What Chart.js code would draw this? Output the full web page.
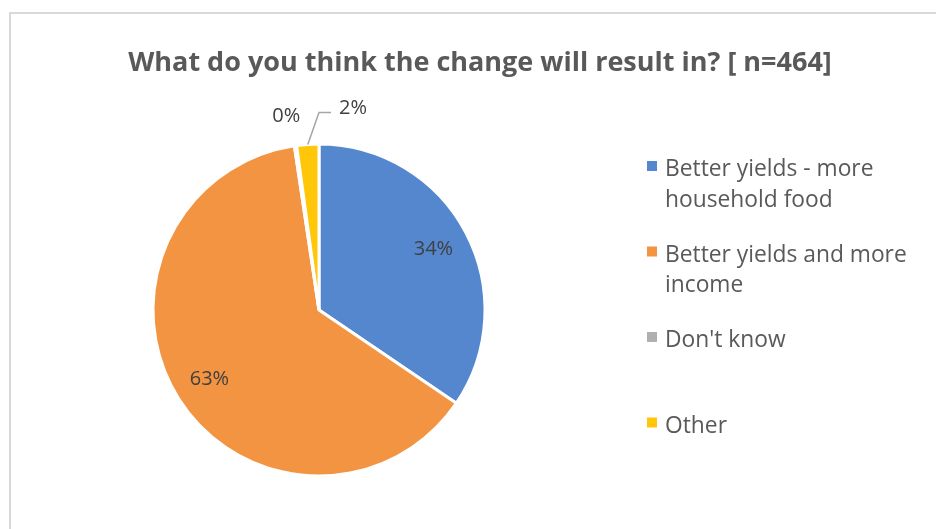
<!DOCTYPE html>
<html>
<head>
<meta charset="utf-8">
<script src="https://cdn.jsdelivr.net/npm/chart.js@4.4.1/dist/chart.umd.min.js"></script>
<style>
  html, body { margin: 0; padding: 0; background: #fff; }
  #wrap { position: relative; width: 936px; height: 529px; overflow: hidden; }
  #frame { position: absolute; left: 9px; top: 12px; width: 1000px; height: 600px;
           border: 2px solid #d9d9d9; box-sizing: border-box; }
  #myChart { position: absolute; left: 0; top: 0; }
</style>
</head>
<body>
<div id="wrap">
  <div id="frame"></div>
  <canvas id="myChart" width="936" height="529"></canvas>
</div>
<script>
const titleText = 'What do you think the change will result in? [ n=464]';

// answers and how many respondents picked each one (n = 464)
const answers = [
    ['Better yields - more', 'household food'],
    ['Better yields and more', 'income'],
    ["Don't know"],
    ['Other']
];
const counts = [160, 293, 1, 10];
const sliceColors = ['#5587cf', '#f29441', '#b0b0b0', '#ffc60a'];

const total = counts.reduce((a, b) => a + b, 0);
const pct = v => Math.round(v / total * 100) + '%';

// title across the frame and the legend column on the right
const frameText = {
    id: 'frameText',
    afterDraw(chart) {
        const ctx = chart.ctx;
        ctx.save();
        ctx.fillStyle = '#595959';
        ctx.textBaseline = 'alphabetic';
        ctx.textAlign = 'center';
        ctx.font = 'bold 27px "Open Sans"';
        ctx.fillText(titleText, 480, 71);

        ctx.textAlign = 'left';
        ctx.font = '22.8px "Open Sans"';
        chart.data.labels.forEach((lines, i) => {
            const base = 176 + i * 85.5;
            ctx.fillStyle = sliceColors[i];
            ctx.fillRect(647, base - 15, 10, 10);
            ctx.fillStyle = '#595959';
            lines.forEach((line, k) => ctx.fillText(line, 665, base + k * 30.7));
        });
        ctx.restore();
    }
};

// percentage labels: big slices inside, thin ones outside the rim
const sliceLabels = {
    id: 'sliceLabels',
    afterDatasetsDraw(chart) {
        const ctx = chart.ctx;
        const arcs = chart.getDatasetMeta(0).data;
        ctx.save();
        ctx.font = '20px "Open Sans"';
        ctx.fillStyle = '#404040';
        ctx.textBaseline = 'middle';
        arcs.forEach((arc, i) => {
            const { x, y, startAngle, endAngle, outerRadius } =
                arc.getProps(['x', 'y', 'startAngle', 'endAngle', 'outerRadius'], true);
            const mid = (startAngle + endAngle) / 2;
            const text = pct(counts[i]);
            if (counts[i] / total >= 0.1) {
                ctx.textAlign = 'center';
                ctx.fillText(text, x + Math.cos(mid) * outerRadius * 0.78,
                                   y + Math.sin(mid) * outerRadius * 0.78);
            } else if (i === 2) {
                // sits left of its spoke so it clears the leader line
                ctx.textAlign = 'right';
                ctx.fillText(text, x + Math.cos(mid) * outerRadius * 1.18 + 9,
                                   y + Math.sin(mid) * outerRadius * 1.18);
            } else {
                // pushed aside with a leader line
                const sx = x + Math.cos(mid) * outerRadius;
                const sy = y + Math.sin(mid) * outerRadius;
                const ex = x + Math.cos(endAngle) * outerRadius * 1.19;
                const ey = y + Math.sin(endAngle) * outerRadius * 1.19;
                ctx.strokeStyle = '#a6a6a6';
                ctx.lineWidth = 1.5;
                ctx.beginPath();
                ctx.moveTo(sx, sy);
                ctx.lineTo(ex, ey);
                ctx.lineTo(ex + 12, ey);
                ctx.stroke();
                ctx.textAlign = 'left';
                ctx.fillText(text, ex + 20, ey - 4);
            }
        });
        ctx.restore();
    }
};

const ctx = document.getElementById('myChart').getContext('2d');

let myChart = new Chart(ctx, {
    type: 'pie',
    data: {
        labels: answers,
        datasets: [{
            data: counts,
            backgroundColor: sliceColors,
            borderColor: '#ffffff',
            borderWidth: 3
        }]
    },
    options: {
        responsive: false,
        animation: false,
        layout: {
            padding: { left: 13, right: 311, top: 142.5, bottom: 51.5 }
        },
        plugins: {
            title: { display: false },
            legend: { display: false },
            tooltip: { enabled: false }
        }
    },
    plugins: [sliceLabels, frameText]
});
</script>
</body>
</html>
